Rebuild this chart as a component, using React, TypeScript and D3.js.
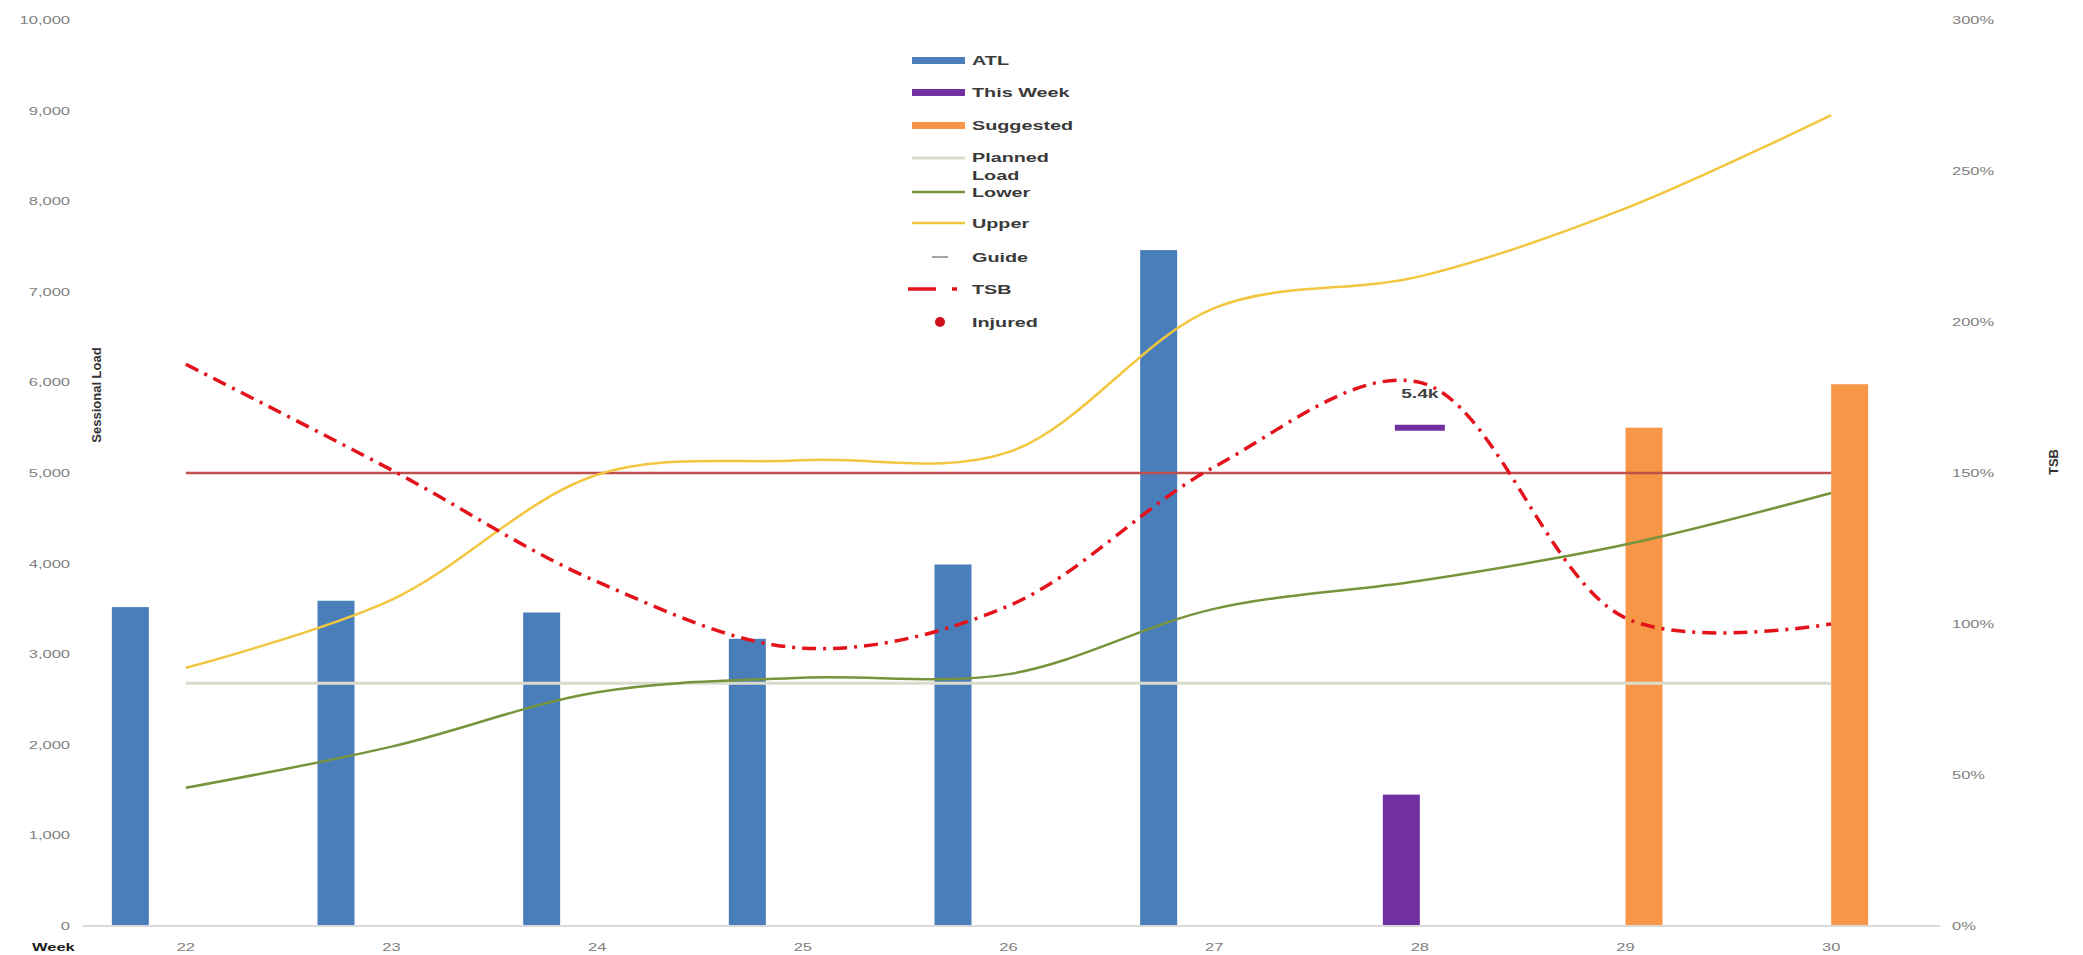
import React from "react";
import * as d3 from "d3";

const weeks = ["22", "23", "24", "25", "26", "27", "28", "29", "30"];
const atl: (number | null)[] = [3520, 3590, 3460, 3170, 3990, 7460, null, null, null];
const thisWeek: (number | null)[] = [null, null, null, null, null, null, 1450, null, null];
const suggested: (number | null)[] = [null, null, null, null, null, null, null, 5500, 5980];
const plannedLoad = [2680, 2680, 2680, 2680, 2680, 2680, 2680, 2680, 2680];
const lower = [1525, 1980, 2580, 2740, 2780, 3500, 3810, 4210, 4780];
const upper = [2850, 3600, 4980, 5140, 5230, 6820, 7170, 7920, 8950];
const guide = [1.5, 1.5, 1.5, 1.5, 1.5, 1.5, 1.5, 1.5, 1.5];
const tsb = [1.86, 1.51, 1.14, 0.92, 1.06, 1.52, 1.8, 1.02, 1.0];
const targetWeek = "28";
const targetValue = 5500;
const targetLabel = "5.4k";
const leftTicks = [0, 1000, 2000, 3000, 4000, 5000, 6000, 7000, 8000, 9000, 10000];
const rightTicks = [0, 0.5, 1, 1.5, 2, 2.5, 3];
const barSeries = ["ATL", "This Week", "Suggested", "slot4"];

const W = 2083;
const H = 955;
const FONT = "'Liberation Sans', Arial, sans-serif";
const SX = 1.5;

function T(props: any) {
  const { x, y, anchor = "start", sx = SX, size = 11, weight = "normal", fill = "#7f7f7f", children } = props;
  return (
    <text
      transform={`translate(${x},${y}) scale(${sx},1)`}
      textAnchor={anchor}
      fontSize={size}
      fontWeight={weight}
      fill={fill}
      fontFamily={FONT}
    >
      {children}
    </text>
  );
}

function L(props: any) {
  return <T {...props} size={12} sx={1.65} weight="bold" fill="#3a3a3a" />;
}

export default function App() {
  const x = d3.scaleBand<string>().domain(weeks).range([83, 1934]).paddingInner(0).paddingOuter(0);
  const cx = (w: string) => (x(w) as number) + x.bandwidth() / 2;
  const inner = d3.scaleBand<string>().domain(barSeries).range([-74, 74]);
  const yL = d3.scaleLinear().domain([0, 10000]).range([926, 20]);
  const yR = d3.scaleLinear().domain([0, 3]).range([926, 20]);

  const curve = d3.curveCatmullRom.alpha(0.5);
  const lineL = d3.line<number>().x((_, i) => cx(weeks[i])).y((d) => yL(d)).curve(curve);
  const lineR = d3.line<number>().x((_, i) => cx(weeks[i])).y((d) => yR(d)).curve(curve);
  const lineStraightL = d3.line<number>().x((_, i) => cx(weeks[i])).y((d) => yL(d));
  const lineStraightR = d3.line<number>().x((_, i) => cx(weeks[i])).y((d) => yR(d));

  const bars: { key: string; vals: (number | null)[]; color: string }[] = [
    { key: "ATL", vals: atl, color: "#4a7ebb" },
    { key: "This Week", vals: thisWeek, color: "#7030a0" },
    { key: "Suggested", vals: suggested, color: "#f79646" },
  ];

  const legendX = 912;
  const legendTX = 972;

  return (
    <svg width={W} height={H} style={{ position: "absolute", left: 0, top: 0, display: "block", background: "#fff" }}>
      {/* bars */}
      {bars.map((s) =>
        s.vals.map((v, i) =>
          v == null ? null : (
            <rect
              key={s.key + i}
              x={cx(weeks[i]) + (inner(s.key) as number)}
              y={yL(v)}
              width={inner.bandwidth()}
              height={yL(0) - yL(v)}
              fill={s.color}
            />
          )
        )
      )}

      {/* planned load */}
      <path d={lineStraightL(plannedLoad) || ""} fill="none" stroke="#d9dccd" strokeWidth={3} />
      {/* guide */}
      <path d={lineStraightR(guide) || ""} fill="none" stroke="#c0504d" strokeWidth={2.5} />
      {/* lower */}
      <path d={lineL(lower) || ""} fill="none" stroke="#77933c" strokeWidth={2.5} />
      {/* upper */}
      <path d={lineL(upper) || ""} fill="none" stroke="#f3c63f" strokeWidth={2.5} />
      {/* TSB */}
      <path
        d={lineR(tsb) || ""}
        fill="none"
        stroke="#e3121b"
        strokeWidth={3.5}
        strokeDasharray="14 7 3 7"
      />

      {/* target marker */}
      <line
        x1={cx(targetWeek) - 25}
        x2={cx(targetWeek) + 25}
        y1={yL(targetValue)}
        y2={yL(targetValue)}
        stroke="#7030a0"
        strokeWidth={6}
      />
      <T x={cx(targetWeek)} y={yL(targetValue) - 30} anchor="middle" size={12} sx={1.6} weight="bold" fill="#404040">
        {targetLabel}
      </T>

      {/* x axis line */}
      <line x1={83} x2={1940} y1={yL(0)} y2={yL(0)} stroke="#d9d9d9" strokeWidth={2} />

      {/* left ticks */}
      {leftTicks.map((t) => (
        <T key={"l" + t} x={70} y={yL(t) + 4} anchor="end">
          {d3.format(",")(t)}
        </T>
      ))}
      {/* right ticks */}
      {rightTicks.map((t) => (
        <T key={"r" + t} x={1952} y={yR(t) + 4}>
          {d3.format(".0%")(t)}
        </T>
      ))}
      {/* week labels */}
      {weeks.map((w) => (
        <T key={"w" + w} x={cx(w)} y={951} anchor="middle">
          {w}
        </T>
      ))}
      <T x={32} y={951} weight="bold" fill="#1a1a1a">
        Week
      </T>

      {/* axis titles */}
      <text
        transform="translate(101,395) rotate(-90)"
        textAnchor="middle"
        fontSize={13}
        fontWeight="bold"
        fill="#333"
        fontFamily={FONT}
      >
        Sessional Load
      </text>
      <text
        transform="translate(2058,462) rotate(-90)"
        textAnchor="middle"
        fontSize={13}
        fontWeight="bold"
        fill="#333"
        fontFamily={FONT}
      >
        TSB
      </text>

      {/* legend */}
      <g>
        <rect x={legendX} y={57} width={53} height={7} fill="#4a7ebb" />
        <L x={legendTX} y={65}>ATL</L>

        <rect x={legendX} y={89} width={53} height={7} fill="#7030a0" />
        <L x={legendTX} y={97}>This Week</L>

        <rect x={legendX} y={122} width={53} height={7} fill="#f79646" />
        <L x={legendTX} y={130}>Suggested</L>

        <line x1={legendX} x2={legendX + 53} y1={158} y2={158} stroke="#d9dccd" strokeWidth={3} />
        <L x={legendTX} y={162}>Planned</L>
        <L x={legendTX} y={180}>Load</L>

        <line x1={legendX} x2={legendX + 53} y1={192} y2={192} stroke="#77933c" strokeWidth={2.5} />
        <L x={legendTX} y={197}>Lower</L>

        <line x1={legendX} x2={legendX + 53} y1={223} y2={223} stroke="#f3c63f" strokeWidth={2.5} />
        <L x={legendTX} y={228}>Upper</L>

        <line x1={932} x2={948} y1={257} y2={257} stroke="#a6a6a6" strokeWidth={2} />
        <L x={legendTX} y={262}>Guide</L>

        <line x1={908} x2={936} y1={289} y2={289} stroke="#e3121b" strokeWidth={3.5} />
        <line x1={952} x2={957} y1={289} y2={289} stroke="#e3121b" strokeWidth={3.5} />
        <L x={legendTX} y={294}>TSB</L>

        <circle cx={940} cy={322} r={5} fill="#d0101a" />
        <L x={legendTX} y={327}>Injured</L>
      </g>
    </svg>
  );
}
